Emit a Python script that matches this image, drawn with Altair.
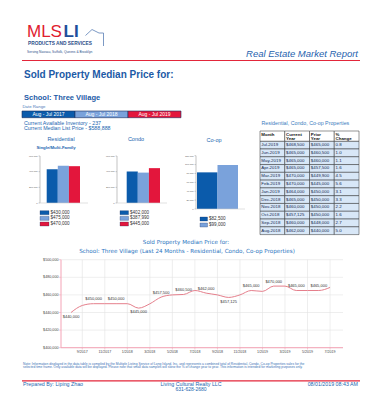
import altair as alt
import pandas as pd

SANS = "Liberation Sans"
VERD = "DejaVu Sans"

# ---------------- data ----------------
PERIODS = ["Aug - Jul 2017", "Aug - Jul 2018", "Aug - Jul 2019"]
PERIOD_COLORS = ["#0b5bab", "#7aa2db", "#e3163c"]

residential_values = [430000, 475000, 470000]
condo_values = [402000, 387990, 445000]
coop_values = [82500, 99000]
res_ticks = [0, 200000, 400000, 600000]
coop_ticks = [0, 20000, 40000, 60000, 80000, 100000, 120000]

table_columns = ["Month", "Current Year", "Prior Year", "% Change"]
table_header_1 = ["Month", "Current", "Prior", "%"]
table_header_2 = ["", "Year", "Year", "Change"]
table_months = ["Jul-2019", "Jun-2019", "May-2019", "Apr-2019", "Mar-2019", "Feb-2019",
                "Jan-2019", "Dec-2018", "Nov-2018", "Oct-2018", "Sep-2018", "Aug-2018"]
table_current = [468500, 465000, 465000, 465000, 470000, 470000,
                 464000, 465000, 460000, 457125, 460000, 462000]
table_prior = [465000, 460500, 460000, 457500, 449900, 445000,
               450000, 450000, 450000, 450000, 448000, 440000]
table_pct = [0.8, 1.0, 1.1, 1.6, 4.5, 5.6, 3.1, 3.3, 2.2, 1.6, 2.7, 5.0]

line_tick_labels = ["9/2017", "11/2017", "1/2018", "3/2018", "5/2018", "7/2018",
                    "9/2018", "11/2018", "1/2019", "3/2019", "5/2019", "7/2019"]
line_y_ticks = [400000, 420000, 440000, 460000, 480000, 500000]

# 24-month series (Aug-2017 .. Jul-2019) built from the table
line_values = table_prior[::-1] + table_current[::-1]

# ---------------- styles ----------------
BLUE = "#1f5fa8"
LBLUE = "#2a74c0"
RED = "#e3263a"
GRAY = "#9a9a9a"
PINK = "#f4a3b6"
LINE = "#e57f8c"
GRID = "#e2e2e2"
NAVY = "#1b2f5e"

ONE = pd.DataFrame({"a": [0]})


def P(v):
    return v - 8


def T(text, x, y, size, color, align="left", weight="normal", style="normal",
      font=SANS, baseline="middle"):
    return alt.Chart(ONE).mark_text(
        text=text, align=align, baseline=baseline, fontSize=size, color=color,
        fontWeight=weight, fontStyle=style, font=font
    ).encode(x=alt.value(P(x)), y=alt.value(P(y)))


def R(x1, y1, x2, y2, color, w):
    return alt.Chart(ONE).mark_rule(color=color, strokeWidth=w).encode(
        x=alt.value(P(x1)), y=alt.value(P(y1)), x2=alt.value(P(x2)), y2=alt.value(P(y2)))


layers = []

# ---------------- header / logo ----------------
layers += [
    T("MLS", 27, 36.7, 17, "#e0202f", baseline="alphabetic"),
    T("LI", 63.5, 36.7, 17, "#1d4f9c", weight="bold", baseline="alphabetic"),
    R(85.5, 35.5, 92, 29.5, "#5a7fb5", 0.8),
    R(92, 29.5, 99, 33, "#5a7fb5", 0.8),
    R(99, 33, 103.5, 33, "#5a7fb5", 0.8),
    R(103.5, 33, 103.5, 46, "#5a7fb5", 0.8),
    T("PRODUCTS AND SERVICES", 28, 43.5, 4.8, "#2d4f8a", weight="bold"),
    T("Serving Nassau, Suffolk, Queens & Brooklyn", 27, 51.5, 3.3, "#2d4f8a"),
    T("Real Estate Market Report", 358, 56.5, 9.5, "#1f62ae", align="right",
      style="italic", baseline="alphabetic"),
    R(22, 60.5, 360, 60.5, RED, 1.2),
    T("Sold Property Median Price for:", 24, 78, 10, "#1c5aa6", weight="bold",
      baseline="alphabetic"),
    T("School: Three Village", 24, 100, 7.5, "#1c5aa6", weight="bold",
      baseline="alphabetic"),
    T("Date Range", 22.5, 106.5, 4.3, "#4a79b8"),
    T("Current Available Inventory - 237", 24, 122.8, 5.3, "#2366b0"),
    T("Current Median List Price - $588,888", 24, 127.8, 5.3, "#2366b0"),
    T("Residential", 61, 138.5, 5.5, "#2366b0", align="center"),
    T("Condo", 136, 138.5, 5.5, "#2366b0", align="center"),
    T("Co-op", 214, 140, 5.5, "#2366b0", align="center"),
    T("Single/Multi-Family", 56, 148, 4.3, "#2366b0", align="center", weight="bold"),
    T("Residential, Condo, Co-op Properties", 261.5, 122.7, 5.3, "#3a7cc0"),
]

# date range bar
dr = pd.DataFrame({"period": PERIODS})
dr_x = alt.Scale(type="band", domain=PERIODS, range=[P(22), P(181)], paddingInner=0, paddingOuter=0)
dr_c = alt.Scale(domain=PERIODS, range=PERIOD_COLORS)
layers.append(alt.Chart(dr).mark_rect(stroke=NAVY, strokeWidth=0.6).encode(
    x=alt.X("period:N", scale=dr_x, axis=None),
    y=alt.value(P(111)), y2=alt.value(P(117.7)),
    color=alt.Color("period:N", scale=dr_c, legend=None)))
layers.append(alt.Chart(dr).mark_text(fontSize=5, color="white", font=SANS, baseline="middle").encode(
    x=alt.X("period:N", scale=dr_x, axis=None, bandPosition=0.5),
    y=alt.value(P(114.4)), text="period:N"))


# ---------------- bar panels ----------------
def bar_panel(vals, ymax, ticks, bar_x, axis_x, y0, y1, base_end, sw_x, rows_y):
    n = len(vals)
    per = PERIODS[:n]
    df = pd.DataFrame({"period": per, "value": vals, "label": [f"${v:,}" for v in vals]})
    ysc = alt.Scale(domain=[0, ymax], range=[P(y0), P(y1)], nice=False, zero=False)
    xsc = alt.Scale(type="band", domain=per, range=[P(bar_x[0]), P(bar_x[1])],
                    paddingInner=0, paddingOuter=0)
    csc = alt.Scale(domain=per, range=PERIOD_COLORS[:n])
    out = []
    out.append(alt.Chart(df).mark_bar().encode(
        x=alt.X("period:N", scale=xsc, axis=None),
        y=alt.Y("value:Q", scale=ysc, axis=None),
        color=alt.Color("period:N", scale=csc, legend=None)))
    out.append(R(axis_x, y1, axis_x, y0, GRAY, 0.6))
    out.append(R(axis_x, y0, base_end, y0, "#cccccc", 0.6))
    tdf = pd.DataFrame({"v": ticks, "t": [f"{t:,}" for t in ticks]})
    out.append(alt.Chart(tdf).mark_rule(color=GRAY, strokeWidth=0.5).encode(
        x=alt.value(P(axis_x) - 1.5), x2=alt.value(P(axis_x)),
        y=alt.Y("v:Q", scale=ysc, axis=None)))
    out.append(alt.Chart(tdf).mark_text(align="right", baseline="middle", fontSize=2.4,
                                        color="#555", font=SANS).encode(
        x=alt.value(P(axis_x) - 2.3), y=alt.Y("v:Q", scale=ysc, axis=None), text="t:N"))
    step = rows_y[1] - rows_y[0]
    pi = 1 - 4.0 / step
    lsc = alt.Scale(type="band", domain=per,
                    range=[P(rows_y[0]) - step / 2, P(rows_y[-1]) + step / 2],
                    paddingInner=pi, paddingOuter=pi / 2)
    out.append(alt.Chart(df).mark_rect(stroke=NAVY, strokeWidth=0.3).encode(
        x=alt.value(P(sw_x[0])), x2=alt.value(P(sw_x[1])),
        y=alt.Y("period:N", scale=lsc, axis=None),
        color=alt.Color("period:N", scale=csc, legend=None)))
    out.append(alt.Chart(df).mark_text(align="left", baseline="middle", fontSize=4.6,
                                       color="#333", font=SANS).encode(
        x=alt.value(P(sw_x[1]) + 1.5),
        y=alt.Y("period:N", scale=lsc, axis=None, bandPosition=0.5), text="label:N"))
    return out


layers += bar_panel(residential_values, 600000, res_ticks, (46.7, 80), 40, 203, 156, 88,
                    (40, 49), [212.7, 218.35, 224])
layers += bar_panel(condo_values, 600000, res_ticks, (126.7, 160), 117, 203, 156, 167,
                    (120, 128.5), [212.7, 218.35, 224])
layers += bar_panel(coop_values, 120000, coop_ticks, (197, 238), 196, 209, 155.7, 245,
                    (200, 207.5), [219, 225])

# ---------------- table ----------------
rows = []
for r, m in enumerate(table_months):
    vals = [m, f"${table_current[r]:,}", f"${table_prior[r]:,}", f"{table_pct[r]:.1f}"]
    for c, v in zip(table_columns, vals):
        rows.append({"row": r, "col": c, "text": v})
tdf = pd.DataFrame(rows)
tx = alt.Scale(type="band", domain=table_columns, range=[P(260), P(359)], paddingInner=0, paddingOuter=0)
ty = alt.Scale(type="band", domain=list(range(len(table_months))), range=[P(141.2), P(234.6)],
               paddingInner=0, paddingOuter=0)
layers.append(alt.Chart(tdf).mark_rect(fill="#d8e7f7", stroke="#2a2a2a", strokeWidth=0.5).encode(
    x=alt.X("col:N", scale=tx, axis=None), y=alt.Y("row:O", scale=ty, axis=None)))
layers.append(alt.Chart(tdf).mark_text(align="left", baseline="middle", fontSize=4.4, dx=1.3,
                                       color="#15284f", font=SANS).encode(
    x=alt.X("col:N", scale=tx, axis=None, bandPosition=0),
    y=alt.Y("row:O", scale=ty, axis=None, bandPosition=0.5), text="text:N"))
hdf = pd.DataFrame({"col": table_columns, "l1": table_header_1, "l2": table_header_2})
layers.append(alt.Chart(hdf).mark_rect(fill="white", stroke="#2a2a2a", strokeWidth=0.5).encode(
    x=alt.X("col:N", scale=tx, axis=None), y=alt.value(P(131)), y2=alt.value(P(141.2))))
layers.append(alt.Chart(hdf).mark_text(align="left", baseline="middle", fontSize=4.4, dx=1.3,
                                       color="#111", font=SANS, fontWeight="bold").encode(
    x=alt.X("col:N", scale=tx, axis=None, bandPosition=0), y=alt.value(P(134.6)), text="l1:N"))
layers.append(alt.Chart(hdf).mark_text(align="left", baseline="middle", fontSize=4.4, dx=1.3,
                                       color="#111", font=SANS, fontWeight="bold").encode(
    x=alt.X("col:N", scale=tx, axis=None, bandPosition=0), y=alt.value(P(138.8)), text="l2:N"))

# ---------------- line chart ----------------
layers += [
    T("Sold Property Median Price for:", 186, 241.7, 5.6, LBLUE, align="center", font=VERD),
    T("School: Three Village (Last 24 Months - Residential, Condo, Co-op Properties)",
      187, 250.7, 5.6, LBLUE, align="center", font=VERD),
]

lx = alt.Scale(domain=[-0.89, 24.15], range=[P(61), P(343)], nice=False, zero=False)
ly = alt.Scale(domain=[400000, 500000], range=[P(347.7), P(259.7)], nice=False, zero=False)

vals = line_values
below = []
for i, v in enumerate(vals):
    prev_ok = i == 0 or v < vals[i - 1]
    next_ok = i == len(vals) - 1 or v < vals[i + 1]
    below.append(bool(prev_ok and next_ok))
ldf = pd.DataFrame({"i": list(range(len(vals))), "v": vals,
                    "t": [f"${v:,}" for v in vals], "below": below})
lab = ldf[ldf["i"] % 2 == 0]

xt = []
for s in line_tick_labels:
    m, y = s.split("/")
    xt.append({"i": (int(y) - 2017) * 12 + int(m) - 8, "t": s})
xtdf = pd.DataFrame(xt)
ytdf = pd.DataFrame({"v": line_y_ticks, "t": [f"${v:,}" for v in line_y_ticks]})

layers.append(alt.Chart(ytdf).mark_rule(color=GRID, strokeWidth=0.6).encode(
    x=alt.value(P(61)), x2=alt.value(P(343)), y=alt.Y("v:Q", scale=ly, axis=None)))
layers.append(alt.Chart(xtdf).mark_rule(color=GRID, strokeWidth=0.6).encode(
    x=alt.X("i:Q", scale=lx, axis=None), y=alt.value(P(259.7)), y2=alt.value(P(347.7))))
layers.append(R(61, 259.7, 61, 347.7, PINK, 1))
layers.append(R(61, 347.7, 343, 347.7, PINK, 1))
layers.append(alt.Chart(ytdf).mark_rule(color=PINK, strokeWidth=0.6).encode(
    x=alt.value(P(59)), x2=alt.value(P(61)), y=alt.Y("v:Q", scale=ly, axis=None)))
layers.append(alt.Chart(xtdf).mark_rule(color=PINK, strokeWidth=0.6).encode(
    x=alt.X("i:Q", scale=lx, axis=None), y=alt.value(P(347.7)), y2=alt.value(P(349.5))))
layers.append(alt.Chart(ytdf).mark_text(align="right", baseline="middle", fontSize=3.7,
                                        color="#444", font=SANS).encode(
    x=alt.value(P(58.5)), y=alt.Y("v:Q", scale=ly, axis=None), text="t:N"))
layers.append(alt.Chart(xtdf).mark_text(align="center", baseline="middle", fontSize=3.6,
                                        color="#444", font=SANS).encode(
    x=alt.X("i:Q", scale=lx, axis=None), y=alt.value(P(351.5)), text="t:N"))
layers.append(alt.Chart(ldf).mark_line(color=LINE, strokeWidth=1, interpolate="monotone").encode(
    x=alt.X("i:Q", scale=lx, axis=None), y=alt.Y("v:Q", scale=ly, axis=None)))
layers.append(alt.Chart(lab[~lab["below"]]).mark_text(
    align="center", baseline="middle", fontSize=4, dy=-4.5, color="#333", font=SANS).encode(
    x=alt.X("i:Q", scale=lx, axis=None), y=alt.Y("v:Q", scale=ly, axis=None), text="t:N"))
layers.append(alt.Chart(lab[lab["below"]]).mark_text(
    align="center", baseline="middle", fontSize=4, dy=4.2, color="#333", font=SANS).encode(
    x=alt.X("i:Q", scale=lx, axis=None), y=alt.Y("v:Q", scale=ly, axis=None), text="t:N"))

# ---------------- footer ----------------
layers += [
    T("Note: Information displayed in the data table is compiled by the Multiple Listing Service of "
      "Long Island, Inc. and represents a combined total of Residential, Condo, Co-op Properties sales for the",
      23, 363.5, 3.3, "#3a6fb5"),
    T("selected time frame. Only available data will be displayed. Please note that small data samples "
      "will skew the % of change year to year. This information is intended for marketing purposes only.",
      23, 367.3, 3.3, "#3a6fb5"),
    R(22, 380.8, 360, 380.8, RED, 1.2),
    T("Prepared By: Liping Zhao", 23, 384.3, 5.3, "#2366b0"),
    T("Living Cultural Realty LLC", 191, 384.3, 5.3, "#2366b0", align="center"),
    T("631-628-2680", 191, 389.0, 5.0, "#2366b0", align="center"),
    T("08/01/2019 08:43 AM", 358, 384.3, 5.3, "#2366b0", align="right"),
]

chart = alt.layer(*layers).resolve_scale(
    x="independent", y="independent", color="independent"
).properties(
    width=366, height=384, padding=0, background="white",
    autosize=alt.AutoSizeParams(type="none"),
).configure_view(stroke=None)

chart.save("out.html", embed_options={"renderer": "svg", "actions": False})
